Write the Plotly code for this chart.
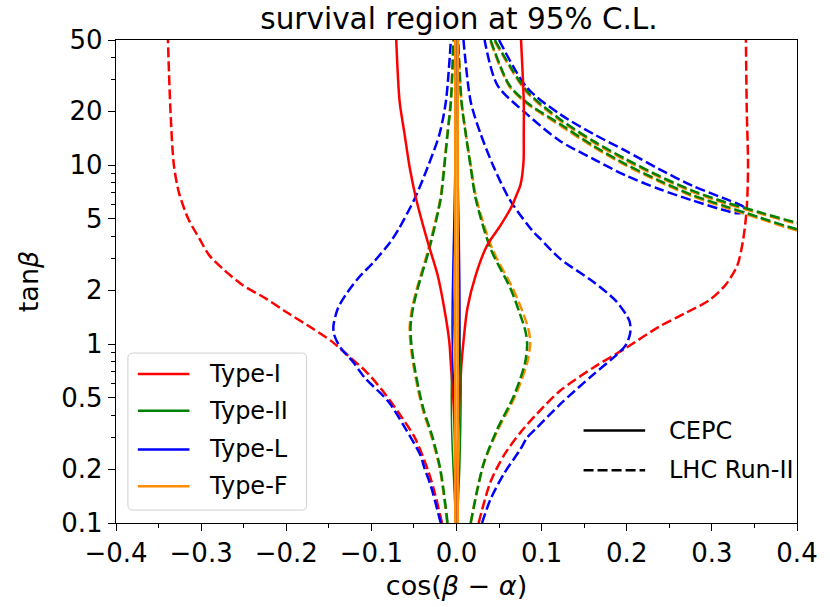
import plotly.graph_objects as go

# ---------------- data (tanβ, cos(β-α)) ----------------
# LHC Run-II, Type-I (red dashed)
lhc_I_left_t = [0.1, 0.15, 0.2, 0.3, 0.42, 0.55, 0.7, 0.85, 1.035, 1.23, 1.52, 1.8, 2.14, 2.64, 3.13, 3.88, 5.0, 7.0, 10.0, 20.0, 50.0]
lhc_I_left_x = [-0.017, -0.026, -0.034, -0.049, -0.069, -0.087, -0.106, -0.126, -0.1466, -0.170, -0.201, -0.2243, -0.2515, -0.2748, -0.2904, -0.302, -0.315, -0.326, -0.332, -0.336, -0.339]
lhc_I_right_t = [0.1, 0.17, 0.24, 0.32, 0.41, 0.55, 0.74, 0.95, 1.25, 1.49, 1.76, 2.14, 2.76, 3.9, 5.8, 10.0, 20.0, 50.0]
lhc_I_right_x = [0.026, 0.040, 0.056, 0.075, 0.095, 0.122, 0.161, 0.199, 0.238, 0.269, 0.297, 0.316, 0.330, 0.337, 0.341, 0.3425, 0.341, 0.340]

# LHC Run-II, Type-L (blue dashed)
lhc_L_left_t = [0.1, 0.16, 0.205, 0.237, 0.35, 0.48, 0.65, 0.8, 0.95, 1.12, 1.26, 1.58, 1.87, 2.33, 2.89, 3.73, 4.41, 6.47, 9.7, 14.9, 22.6, 50.0]
lhc_L_left_x = [-0.0185, -0.030, -0.038, -0.042, -0.062, -0.0805, -0.108, -0.122, -0.136, -0.1435, -0.1446, -0.1394, -0.1306, -0.1155, -0.0968, -0.0775, -0.0677, -0.0493, -0.034, -0.020, -0.0125, -0.0066]
lhc_L_right_t = [0.1, 0.136, 0.188, 0.258, 0.30, 0.341, 0.46, 0.675, 0.87, 0.99, 1.15, 1.34, 1.73, 2.23, 3.0, 3.88, 4.22, 6.35, 9.7, 14.9, 22.6, 50.0]
lhc_L_right_x = [0.030, 0.040, 0.0556, 0.075, 0.083, 0.0945, 0.1216, 0.1606, 0.188, 0.199, 0.204, 0.2033, 0.1878, 0.1606, 0.1216, 0.0983, 0.0906, 0.063, 0.044, 0.0284, 0.0167, 0.0082]
lhc_L_band_t = [50.0, 27.0, 19.2, 14.9, 12.0, 9.5, 7.67, 6.47, 6.0, 5.78, 5.5, 5.38, 5.57, 6.35, 7.35, 8.73, 10.8, 13.6, 19.2, 28.0, 50.0]
lhc_L_band_x = [0.050, 0.083, 0.122, 0.161, 0.199, 0.238, 0.277, 0.316, 0.333, 0.338, 0.337, 0.330, 0.316, 0.277, 0.238, 0.199, 0.161, 0.122, 0.083, 0.048, 0.033]

# LHC Run-II, Type-II (green dashed)
lhc_II_left_t = [0.1, 0.15, 0.2, 0.3, 0.42, 0.55, 0.78, 1.0, 1.25, 1.6, 2.05, 3.4, 6.5, 9.7, 14.9, 22.6, 50.0]
lhc_II_left_x = [-0.0105, -0.015, -0.019, -0.028, -0.038, -0.044, -0.050, -0.053, -0.054, -0.051, -0.0455, -0.032, -0.0185, -0.0144, -0.0105, -0.0066, -0.0035]
lhc_II_right_t = [0.1, 0.15, 0.218, 0.334, 0.512, 0.784, 1.0, 1.18, 1.5, 2.05, 3.41, 6.47, 9.7, 14.9, 22.6, 50.0]
lhc_II_right_x = [0.0167, 0.024, 0.0323, 0.0478, 0.0673, 0.0805, 0.083, 0.081, 0.074, 0.0633, 0.040, 0.0226, 0.0167, 0.0109, 0.0058, 0.002]
lhc_II_bandup_t = [50.0, 25.8, 18.0, 13.6, 10.8, 8.7, 7.2, 6.2, 5.47, 4.8, 4.65]
lhc_II_bandup_x = [0.045, 0.083, 0.122, 0.161, 0.199, 0.238, 0.277, 0.316, 0.355, 0.398, 0.42]
lhc_II_banddn_t = [50.0, 28.0, 22.3, 16.9, 12.8, 10.1, 8.2, 6.8, 5.88, 5.12, 4.41, 4.25]
lhc_II_banddn_x = [0.040, 0.062, 0.083, 0.122, 0.161, 0.199, 0.238, 0.277, 0.316, 0.355, 0.398, 0.42]

# LHC Run-II, Type-F (orange dashed)
lhc_F_left_t = [0.1, 0.15, 0.2, 0.3, 0.42, 0.55, 0.78, 1.0, 1.25, 1.6, 2.05, 3.4, 6.5, 9.7, 14.9, 22.6, 50.0]
lhc_F_left_x = [-0.011, -0.0155, -0.0195, -0.029, -0.039, -0.045, -0.051, -0.054, -0.055, -0.052, -0.0465, -0.033, -0.019, -0.0148, -0.0108, -0.0068, -0.0036]
lhc_F_right_t = [0.1, 0.15, 0.218, 0.334, 0.512, 0.784, 1.0, 1.18, 1.5, 2.05, 3.41, 6.47, 9.7, 14.9, 22.6, 50.0]
lhc_F_right_x = [0.0167, 0.024, 0.0325, 0.049, 0.069, 0.083, 0.0865, 0.085, 0.078, 0.066, 0.042, 0.0235, 0.0172, 0.011, 0.006, 0.002]
lhc_F_bandup_t = [49.0, 25.4, 17.7, 13.4, 10.6, 8.57, 7.09, 6.1, 5.39, 4.73, 4.58]
lhc_F_bandup_x = [0.045, 0.083, 0.122, 0.161, 0.199, 0.238, 0.277, 0.316, 0.355, 0.398, 0.42]
lhc_F_banddn_t = [49.0, 27.6, 22.0, 16.6, 12.6, 9.95, 8.08, 6.7, 5.79, 5.04, 4.34, 4.19]
lhc_F_banddn_x = [0.040, 0.062, 0.083, 0.122, 0.161, 0.199, 0.238, 0.277, 0.316, 0.355, 0.398, 0.42]

# CEPC, Type-I (red solid)
cepc_I_left_t = [0.1, 0.3, 0.5, 0.767, 1.035, 1.585, 2.43, 3.72, 6.47, 9.7, 14.9, 22.6, 50.0]
cepc_I_left_x = [-0.001, -0.002, -0.0038, -0.0066, -0.0085, -0.0144, -0.0222, -0.0338, -0.0474, -0.055, -0.061, -0.0668, -0.0708]
cepc_I_right_t = [0.1, 0.3, 0.5, 0.767, 1.035, 1.585, 2.43, 3.56, 4.6, 5.9, 6.9, 7.7, 10.4, 14.9, 22.6, 50.0]
cepc_I_right_x = [0.001, 0.002, 0.0038, 0.0058, 0.0082, 0.0128, 0.0226, 0.036, 0.0517, 0.065, 0.071, 0.075, 0.0787, 0.079, 0.079, 0.0758]

# CEPC, Type-II (green solid)
cepc_II_left_t = [0.1, 0.2, 0.35, 0.6, 1.0, 2.0, 5.0, 50.0]
cepc_II_left_x = [-0.001, -0.004, -0.0058, -0.006, -0.0045, -0.0028, -0.0015, -0.0008]
cepc_II_right_t = [0.1, 0.2, 0.35, 0.6, 1.0, 2.0, 5.0, 50.0]
cepc_II_right_x = [0.001, 0.0038, 0.005, 0.0055, 0.0042, 0.0028, 0.0015, 0.0008]

# CEPC, Type-L (blue solid)
cepc_L_left_t = [0.1, 0.4, 0.8, 1.2, 2.0, 4.0, 8.0, 20.0, 50.0]
cepc_L_left_x = [-0.001, -0.002, -0.0045, -0.0052, -0.0048, -0.0035, -0.0022, -0.0012, -0.0008]
cepc_L_right_t = [0.1, 0.4, 0.8, 1.2, 2.0, 4.0, 8.0, 20.0, 50.0]
cepc_L_right_x = [0.001, 0.0018, 0.0033, 0.0040, 0.0040, 0.0032, 0.002, 0.0012, 0.0008]

# CEPC, Type-F (orange solid)
cepc_F_left_t = [0.1, 1.0, 10.0, 50.0]
cepc_F_left_x = [-0.0015, -0.0015, -0.0015, -0.0015]
cepc_F_right_t = [0.1, 1.0, 10.0, 50.0]
cepc_F_right_x = [0.0015, 0.0015, 0.0015, 0.0015]

types = ["Type-I", "Type-II", "Type-L", "Type-F"]
colors = {"Type-I": "#ff0000", "Type-II": "#008000", "Type-L": "#0000ff", "Type-F": "#ff8c00"}
styles = ["CEPC", "LHC Run-II"]

x_ticks = [-0.4, -0.3, -0.2, -0.1, 0.0, 0.1, 0.2, 0.3, 0.4]
y_ticks = [0.1, 0.2, 0.5, 1, 2, 5, 10, 20, 50]
y_ticktext = ["0.1", "0.2", "0.5", "1", "2", "5", "10", "20", "50"]
y_minor = [0.3, 0.4, 0.6, 0.7, 0.8, 0.9, 3, 4, 6, 7, 8, 9, 30, 40]

FONT = "DejaVu Sans"
W, H = 830, 607
PL, PR, PT, PB = 116, 802, 40, 526
DASH = "10px,4px"
LW = 2.5

fig = go.Figure()

def add(xs, ts, color, dashed, width=LW):
    fig.add_trace(go.Scatter(
        x=xs, y=ts, mode="lines", showlegend=False, hoverinfo="skip",
        line=dict(color=color, width=width, dash=DASH if dashed else "solid",
                  shape="spline", smoothing=0.8)))

# LHC Run-II (dashed)
add(lhc_I_left_x, lhc_I_left_t, colors["Type-I"], True)
add(lhc_I_right_x, lhc_I_right_t, colors["Type-I"], True)
add(lhc_L_left_x, lhc_L_left_t, colors["Type-L"], True)
add(lhc_L_right_x, lhc_L_right_t, colors["Type-L"], True)
add(lhc_L_band_x, lhc_L_band_t, colors["Type-L"], True)
add(lhc_F_left_x, lhc_F_left_t, colors["Type-F"], True)
add(lhc_F_right_x, lhc_F_right_t, colors["Type-F"], True)
add(lhc_F_bandup_x, lhc_F_bandup_t, colors["Type-F"], True)
add(lhc_F_banddn_x, lhc_F_banddn_t, colors["Type-F"], True)
add(lhc_II_left_x, lhc_II_left_t, colors["Type-II"], True)
add(lhc_II_right_x, lhc_II_right_t, colors["Type-II"], True)
add(lhc_II_bandup_x, lhc_II_bandup_t, colors["Type-II"], True)
add(lhc_II_banddn_x, lhc_II_banddn_t, colors["Type-II"], True)
# CEPC (solid)
add(cepc_I_left_x, cepc_I_left_t, colors["Type-I"], False)
add(cepc_I_right_x, cepc_I_right_t, colors["Type-I"], False)
add(cepc_II_left_x, cepc_II_left_t, colors["Type-II"], False, 1.5)
add(cepc_II_right_x, cepc_II_right_t, colors["Type-II"], False, 1.5)
add(cepc_L_left_x, cepc_L_left_t, colors["Type-L"], False, 1.5)
add(cepc_L_right_x, cepc_L_right_t, colors["Type-L"], False, 1.5)
add(cepc_F_left_x, cepc_F_left_t, colors["Type-F"], False)
add(cepc_F_right_x, cepc_F_right_t, colors["Type-F"], False)

# ---------------- legends drawn in paper coordinates ----------------
def px(xp):
    return (xp - PL) / (PR - PL)

def py(yp):
    return (PB - yp) / (PB - PT)

shapes = []
annotations = []

# legend 1 frame (rounded)
bx0, bx1, by0, by1, r = 128, 308, 355, 513, 5
rx, ry = r / (PR - PL), r / (PB - PT)
X0, X1, Y0, Y1 = px(bx0), px(bx1), py(by1), py(by0)
path = (f"M {X0+rx},{Y0} L {X1-rx},{Y0} Q {X1},{Y0} {X1},{Y0+ry} "
        f"L {X1},{Y1-ry} Q {X1},{Y1} {X1-rx},{Y1} L {X0+rx},{Y1} "
        f"Q {X0},{Y1} {X0},{Y1-ry} L {X0},{Y0+ry} Q {X0},{Y0} {X0+rx},{Y0} Z")
shapes.append(dict(type="path", path=path, xref="paper", yref="paper", layer="above",
                   fillcolor="rgba(255,255,255,0.8)", line=dict(color="#d0d0d0", width=1)))
leg1_rows = [376, 413, 452, 489]
for name, yy in zip(types, leg1_rows):
    shapes.append(dict(type="line", xref="paper", yref="paper", layer="above",
                       x0=px(138), x1=px(190), y0=py(yy), y1=py(yy),
                       line=dict(color=colors[name], width=LW)))
    annotations.append(dict(text=name, xref="paper", yref="paper", x=px(208), y=py(yy),
                            xanchor="left", yanchor="middle", showarrow=False,
                            font=dict(family=FONT, size=24, color="black")))

leg2_rows = [433, 473]
for name, yy, dashed in zip(styles, leg2_rows, [False, True]):
    shapes.append(dict(type="line", xref="paper", yref="paper", layer="above",
                       x0=px(587), x1=px(649), y0=py(yy), y1=py(yy),
                       line=dict(color="black", width=LW, dash=DASH if dashed else "solid")))
    annotations.append(dict(text=name, xref="paper", yref="paper", x=px(671), y=py(yy),
                            xanchor="left", yanchor="middle", showarrow=False,
                            font=dict(family=FONT, size=24, color="black")))

fig.update_layout(
    width=W, height=H,
    margin=dict(l=PL, r=W - PR, t=PT, b=H - PB, pad=0),
    paper_bgcolor="white", plot_bgcolor="white",
    font=dict(family=FONT, color="black"),
    title=dict(text="survival region at 95% C.L.", x=(PL + PR) / 2 / W, xanchor="center",
               y=1 - 19 / H, yanchor="middle", font=dict(family=FONT, size=29.5, color="black")),
    shapes=shapes, annotations=annotations,
    showlegend=False,
)
fig.update_xaxes(
    range=[-0.4, 0.4], tickmode="array", tickvals=x_ticks, tickformat=".1f",
    showgrid=False, zeroline=False, showline=True, linecolor="black", linewidth=1.3, mirror=True,
    ticks="outside", ticklen=7, tickwidth=1.3, tickcolor="black",
    tickfont=dict(family=FONT, size=26, color="black"),
    minor=dict(dtick=0.05, tick0=0, ticks="outside", ticklen=4, tickwidth=1, tickcolor="black", showgrid=False),
    title=dict(text="cos(<i>β</i> − <i>α</i>)", font=dict(family=FONT, size=27, color="black"), standoff=8),
)
fig.update_yaxes(
    type="log", range=[-1, 1.69897], tickmode="array", tickvals=y_ticks, ticktext=y_ticktext,
    showgrid=False, zeroline=False, showline=True, linecolor="black", linewidth=1.3, mirror=True,
    ticks="outside", ticklen=7, tickwidth=1.3, tickcolor="black",
    tickfont=dict(family=FONT, size=26, color="black"),
    minor=dict(tickmode="array", tickvals=y_minor, ticks="outside", ticklen=4, tickwidth=1,
               tickcolor="black", showgrid=False),
    title=dict(text="tan<i>β</i>", font=dict(family=FONT, size=27, color="black"), standoff=14),
)

fig.write_html("out.html")
